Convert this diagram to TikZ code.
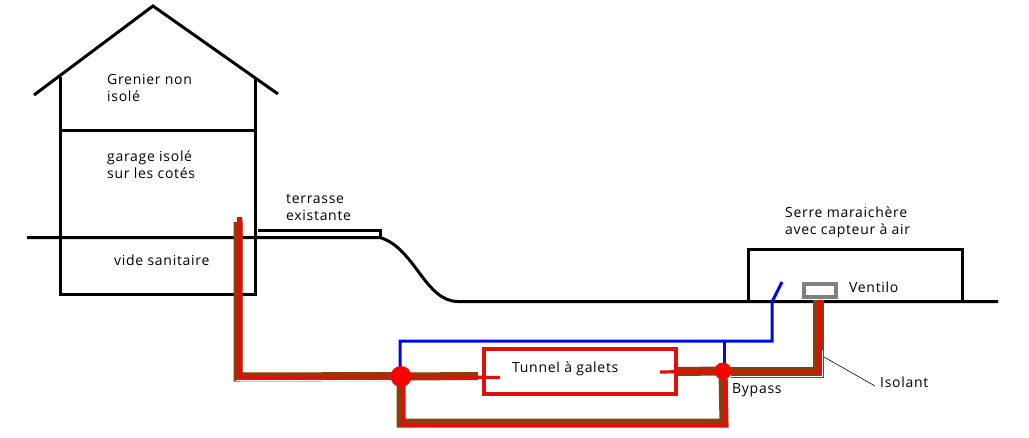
\documentclass[tikz,border=0pt]{standalone}
\usepackage{fontspec}
\setmainfont[LetterSpace=5]{Open Sans}
\definecolor{pipebrown}{RGB}{140,62,10}
\definecolor{pipered}{RGB}{225,15,10}
\definecolor{wireblue}{RGB}{0,10,225}
\tikzset{
  x=1pt,y=-1pt,
  wall/.style={draw=black,line width=3pt},
  label/.style={font=\fontsize{14}{17}\selectfont,align=left,inner sep=0pt,anchor=west},
  brownpipe/.style={draw=pipebrown,line width=9pt,line join=miter},
  redpipe/.style={draw=pipered,line width=4pt,line join=miter},
  bluewire/.style={draw=wireblue,line width=3pt,line join=miter},
  junction/.style={circle,fill=red,inner sep=0pt,minimum size=21pt},
  gapline/.style={draw=white,line width=.7pt},
}
\begin{document}
\begin{tikzpicture}
\useasboundingbox (0,0) rectangle (1029,437);
% house
\draw[wall] (34,95) -- (153,6) -- (278,94);
\draw[wall] (60.5,77) -- (60.5,294) -- (255.5,294) -- (255.5,77);
\draw[wall] (60.5,130.5) -- (255.5,130.5);
% ground
\draw[wall] (27,237.5) -- (380,237.5) .. controls (415,248) and (425,301.5) .. (458,301.5) -- (998,301.5);
\draw[wall] (258,230.5) -- (380.5,230.5) -- (380.5,237);
% greenhouse
\draw[wall] (748.5,301) -- (748.5,249.5) -- (962.5,249.5) -- (962.5,301);
% junction coordinates
\coordinate (topB) at (238,222);
\coordinate (topR) at (239.5,217);
\coordinate (cornerA) at (238,377);
\coordinate (J1) at (401,376.5);
\coordinate (J2) at (723,371);
\coordinate (J2r) at (731,372.5);
\coordinate (cornerB) at (401,423);
\coordinate (cornerC) at (724,423);
\coordinate (tunL) at (478,376);
\coordinate (tunR) at (677,371.5);
\coordinate (cornerD) at (818.5,372.5);
\coordinate (fan) at (818.5,300);
% pipes
\draw[brownpipe] (topB) -- (cornerA) -- (J1);
\draw[brownpipe,line width=8pt] (J1) -- (tunL);
\draw[brownpipe] (J1) -- (cornerB) -- (cornerC) -- (J2);
\draw[brownpipe,line width=9pt] (J2) -- (tunR);
\draw[brownpipe,line width=10.5pt] (J2r) -- (cornerD) -- (fan);
\draw[redpipe,line width=5.5pt] (topR) -- (239.75,378);
\draw[redpipe,line width=3.2pt] (237,377.5) -- (J1);
\draw[gapline] (236,380) -- (392,380);
\draw[redpipe,line width=3.2pt] (J1) -- (500,377.5);
\draw[redpipe] (402.5,387) -- (402.5,425) -- (726,425) -- (726,380);
\draw[redpipe,line width=3.2pt] (660,372) -- (J2);
\draw[redpipe,line width=3.6pt] (J2r) -- (819.5,372.5);
\draw[redpipe,line width=4.5pt] (819.5,374) -- (819.5,300);
\draw[gapline] (731,376.5) -- (822.5,376.5) -- (822.5,350);
% tunnel
\draw[draw=pipered,line width=3.5pt] (484,349) rectangle (676,394);
% blue wire
\coordinate (flap) at (782,282);
\draw[bluewire] (400,368) -- (400,341) -- (772,341) -- (772,302) -- (flap);
\draw[bluewire] (724,341) -- (724,365);
% junctions
\node[junction] (n1) at (J1) {};
\node[junction,minimum size=17pt] (n2) at (J2) {};
% fan
\node[draw={rgb,255:red,128;green,128;blue,128},line width=4pt,minimum width=32pt,minimum height=13pt,inner sep=0pt,fill=white] (fanbox) at (820,290.5) {};
% isolant leader
\coordinate (leader) at (824,357);
\draw[black,line width=.6pt] (leader) -- (875,386);
% labels
\node[label] (t1) at (107,88) {Grenier non\\isolé};
\node[label] (t2) at (107,164.5) {garage isolé\\sur les cotés};
\node[label] (t3) at (114,260) {vide sanitaire};
\node[label] (t4) at (286,207.5) {terrasse\\existante};
\node[label] (t5) at (785,222) {Serre maraichère\\ avec capteur à air};
\node[label] (t6) at (849,287) {Ventilo};
\node[label] (t7) at (512,369) {Tunnel à galets};
\node[label] (t8) at (732,390) {Bypass};
\node[label] (t9) at (880,382) {Isolant};
\end{tikzpicture}
\end{document}
